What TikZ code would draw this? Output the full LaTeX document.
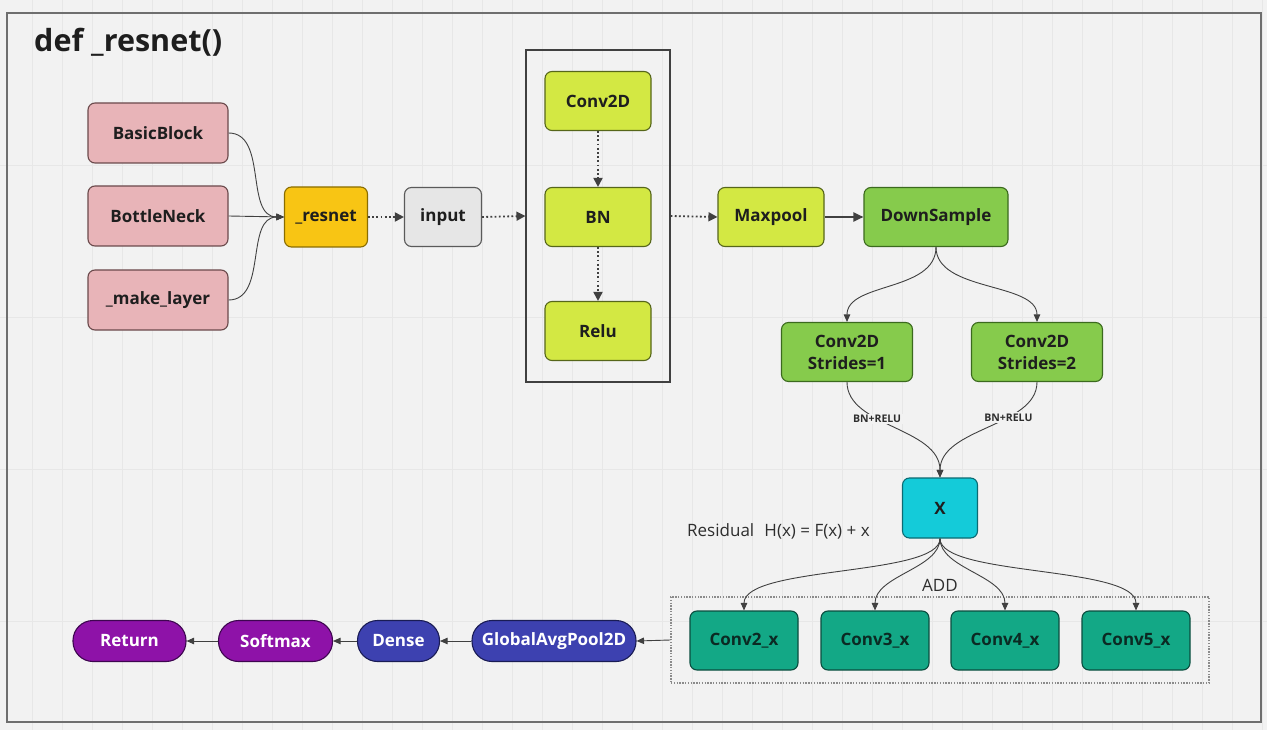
\documentclass[tikz,border=0pt]{standalone}
\usepackage{fontspec}
\setmainfont{Open Sans}
\usetikzlibrary{arrows.meta}
\definecolor{bg}{HTML}{F2F2F2}
\definecolor{gridc}{HTML}{E7E7E7}
\definecolor{framec}{HTML}{6E6E6E}
\definecolor{linec}{HTML}{404040}
\definecolor{txt}{HTML}{1E1E1E}
\definecolor{labc}{HTML}{2E2E2E}
\definecolor{pinkf}{HTML}{E8B4B8}\definecolor{pinkd}{HTML}{6B4A4C}
\definecolor{yelf}{HTML}{F8C514}\definecolor{yeld}{HTML}{8A6D00}
\definecolor{grayf}{HTML}{E6E6E6}\definecolor{grayd}{HTML}{5A5A5A}
\definecolor{limef}{HTML}{D3E843}\definecolor{limed}{HTML}{56661A}
\definecolor{greenf}{HTML}{86CB4C}\definecolor{greend}{HTML}{3B6A1E}
\definecolor{cyanf}{HTML}{14CBD9}\definecolor{cyand}{HTML}{0B6B73}
\definecolor{tealf}{HTML}{13A886}\definecolor{teald}{HTML}{0A4D3F}
\definecolor{tealt}{HTML}{0B2A23}
\definecolor{purf}{HTML}{8E12A8}\definecolor{purd}{HTML}{3E0650}
\definecolor{bluef}{HTML}{3D41B0}\definecolor{blued}{HTML}{1A1C55}
\tikzset{
  box/.style={rounded corners=7pt, line width=1.1pt, align=center, inner sep=0pt,
    text=txt, font=\bfseries\fontsize{17}{22}\selectfont},
  pinkbox/.style={box, fill=pinkf, draw=pinkd, minimum width=140pt, minimum height=60pt},
  limebox/.style={box, fill=limef, draw=limed, minimum width=106pt, minimum height=59pt},
  greenbox/.style={box, fill=greenf, draw=greend, minimum height=59pt},
  tealbox/.style={box, fill=tealf, draw=teald, minimum width=108pt, minimum height=59pt, text=tealt},
  pill/.style={box, rounded corners=20pt, text=white, minimum height=41pt},
  arr/.style={draw=linec, line width=0.9pt, -{Triangle[length=7.5pt,width=6.5pt]}},
  dotarr/.style={draw=linec, line width=1.8pt, dash pattern=on 1.8pt off 2.4pt,
    -{Triangle[length=9pt,width=9pt]}},
  vlab/.style={fill=bg, inner sep=1.5pt, text=labc, font=\bfseries\fontsize{10.5}{12}\selectfont},
}
\begin{document}
\begin{tikzpicture}[x=1pt,y=-1pt]
\fill[bg] (0,0) rectangle (1267,730);
\useasboundingbox (0,0) rectangle (1267,730);
% faint grid
\foreach \gx in {32,62,...,1262} \draw[gridc, line width=0.7pt] (\gx,0) -- (\gx,730);
\foreach \gy in {165,317,469,621} \draw[gridc, line width=0.7pt] (0,\gy) -- (1267,\gy);
% frame
\draw[framec, line width=1.8pt] (7,13) rectangle (1261,722);
% title
\node[anchor=west, inner sep=0pt, text=txt, font=\bfseries\fontsize{30.5}{36}\selectfont] (title) at (34,42) {def \_resnet()};

% left column
\node[pinkbox] (bb) at (158,133) {BasicBlock};
\node[pinkbox] (bneck) at (158,216) {BottleNeck};
\node[pinkbox] (ml) at (158,300) {\_make\_layer};
\node[box, fill=yelf, draw=yeld, minimum width=83pt, minimum height=60pt] (rs) at (326,217) {\_resnet};
\node[box, fill=grayf, draw=grayd, minimum width=77pt, minimum height=59pt] (inp) at (443,217) {input};

% container
\node[draw=linec, line width=1.1pt, minimum width=144pt, minimum height=332pt, inner sep=0pt] (cbox) at (598,216) {};
\node[limebox] (c2d) at (598,101) {Conv2D};
\node[limebox] (bnn) at (598,217) {BN};
\node[limebox] (relu) at (598,331) {Relu};
\node[limebox] (mp) at (771,217) {Maxpool};
\node[greenbox, minimum width=144pt] (ds) at (936,217) {DownSample};
\node[greenbox, minimum width=131pt] (s1) at (847,352) {Conv2D\\Strides=1};
\node[greenbox, minimum width=131pt] (s2) at (1037,352) {Conv2D\\Strides=2};
\node[box, fill=cyanf, draw=cyand, minimum width=75pt, minimum height=60pt] (X) at (940,508) {X};

\node[anchor=west, inner sep=0pt, text=labc, font=\fontsize{17}{20}\selectfont] (res) at (687,531) {Residual\hspace{0.6em}H(x) = F(x) + x};
\node[inner sep=0pt, text=labc, font=\fontsize{17}{20}\selectfont] (add) at (940,585) {ADD};

% conv_x group
\node[draw=framec!80, line width=1.2pt, dash pattern=on 1.4pt off 1.4pt, minimum width=538pt, minimum height=86pt, inner sep=0pt] (grp) at (940,640) {};
\node[tealbox] (c2) at (744,640.5) {Conv2\_x};
\node[tealbox] (c3) at (875,640.5) {Conv3\_x};
\node[tealbox] (c4) at (1005,640.5) {Conv4\_x};
\node[tealbox] (c5) at (1136,640.5) {Conv5\_x};

% bottom row
\node[pill, fill=purf, draw=purd, minimum width=113pt] (ret) at (129.5,641) {Return};
\node[pill, fill=purf, draw=purd, minimum width=114pt] (sm) at (275.5,641) {Softmax};
\node[pill, fill=bluef, draw=blued, minimum width=82pt] (dense) at (398.5,641) {Dense};
\node[pill, fill=bluef, draw=blued, minimum width=164pt] (gap) at (554,641) {GlobalAvgPool2D};

% connectors
\draw[arr] (bb.east) to[out=0,in=180] (rs.west);
\draw[arr] (bneck.east) -- (rs.west);
\draw[arr] (ml.east) to[out=0,in=180] (rs.west);
\draw[dotarr] (rs.east) -- (inp.west);
\draw[dotarr] (inp.east) -- (cbox.west);
\draw[dotarr] (cbox.east) -- (mp.west);
\draw[dotarr] (c2d.south) -- (bnn.north);
\draw[dotarr] (bnn.south) -- (relu.north);
\draw[draw=linec, line width=2pt, -{Triangle[length=10pt,width=9pt]}] (mp.east) -- (ds.west);
\draw[arr] (ds.south) .. controls +(0,45) and +(0,-40) .. (s1.north);
\draw[arr] (ds.south) .. controls +(0,45) and +(0,-40) .. (s2.north);
\draw[arr] (s1.south) .. controls +(0,45) and +(0,-50) .. node[vlab, pos=0.38] {BN+RELU} (X.north);
\draw[arr] (s2.south) .. controls +(0,45) and +(0,-50) .. node[vlab, pos=0.36] {BN+RELU} (X.north);
\draw[arr] (X.south) .. controls +(0,38) and +(0,-45) .. (c2.north);
\draw[arr] (X.south) .. controls +(0,30) and +(0,-35) .. (c3.north);
\draw[arr] (X.south) .. controls +(0,30) and +(0,-35) .. (c4.north);
\draw[arr] (X.south) .. controls +(0,38) and +(0,-45) .. (c5.north);
\draw[arr] (grp.west) -- (gap.east);
\draw[arr] (gap.west) -- (dense.east);
\draw[arr] (dense.west) -- (sm.east);
\draw[arr] (sm.west) -- (ret.east);
\end{tikzpicture}
\end{document}
